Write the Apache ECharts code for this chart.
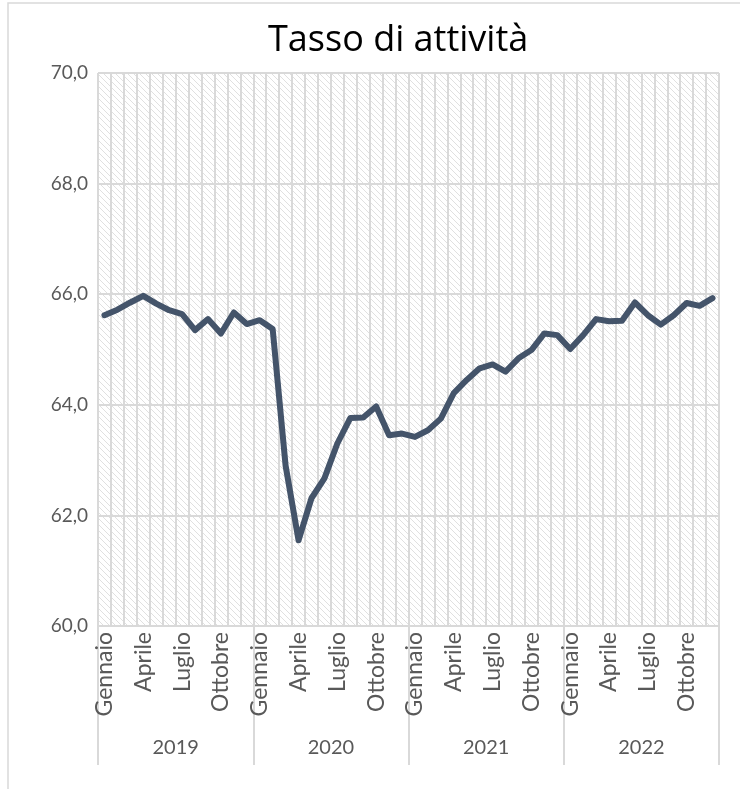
<!DOCTYPE html>
<html>
<head>
<meta charset="utf-8">
<script src="https://cdn.jsdelivr.net/npm/echarts@6/dist/echarts.min.js"></script>
<style>
  html, body { margin: 0; padding: 0; background: #fff; }
  #container { width: 740px; height: 789px; }
</style>
</head>
<body>
<div id="container"></div>
<script>
// dati mensili 2019-2022
var years = ['2019', '2020', '2021', '2022'];
var monthNames = ['Gennaio', 'Febbraio', 'Marzo', 'Aprile', 'Maggio', 'Giugno',
                  'Luglio', 'Agosto', 'Settembre', 'Ottobre', 'Novembre', 'Dicembre'];
var rate2019 = [65.62, 65.72, 65.85, 65.97, 65.83, 65.71, 65.64, 65.35, 65.55, 65.29, 65.67, 65.46];
var rate2020 = [65.53, 65.37, 62.90, 61.55, 62.31, 62.67, 63.30, 63.76, 63.77, 63.97, 63.45, 63.48];
var rate2021 = [63.42, 63.54, 63.75, 64.21, 64.45, 64.66, 64.73, 64.60, 64.84, 64.99, 65.29, 65.26];
var rate2022 = [65.01, 65.26, 65.55, 65.51, 65.52, 65.85, 65.62, 65.45, 65.62, 65.84, 65.79, 65.93];

var categories = [];
years.forEach(function (y) {
    monthNames.forEach(function (m) { categories.push(m + ' ' + y); });
});
var values = rate2019.concat(rate2020, rate2021, rate2022);

// tratteggio di sfondo
var hatch = document.createElement('canvas');
hatch.width = 6;
hatch.height = 6;
var hctx = hatch.getContext('2d');
hctx.fillStyle = '#ffffff';
hctx.fillRect(0, 0, 6, 6);
hctx.fillStyle = '#e0e0e0';
for (var i = 0; i < 6; i++) {
    hctx.fillRect(i, i, 1, 1);
}

var dom = document.getElementById('container');
var myChart = echarts.init(dom, null, { renderer: 'canvas' });

var gridColor = '#d9d9d9';
var textColor = '#595959';
var font = 'Lato';

var option = {
    animation: false,
    backgroundColor: '#ffffff',
    title: {
        text: 'Tasso di attività',
        left: 263,
        top: 18,
        textStyle: { fontFamily: 'Open Sans', fontSize: 36, fontWeight: 'normal', color: '#000000' }
    },
    graphic: [{
        type: 'rect',
        shape: { x: 8, y: 3, width: 800, height: 830 },
        style: { fill: null, stroke: gridColor, lineWidth: 1.5 },
        silent: true
    }],
    grid: {
        left: 98, right: 21, top: 73, bottom: 163,
        show: true,
        borderWidth: 0,
        backgroundColor: { image: hatch, repeat: 'repeat' }
    },
    xAxis: [{
        type: 'category',
        data: categories,
        boundaryGap: true,
        axisLine: { show: true, lineStyle: { color: gridColor, width: 2 } },
        axisTick: { show: false },
        splitLine: { show: true, interval: 0, lineStyle: { color: gridColor, width: 2 } },
        axisLabel: {
            interval: 0,
            rotate: 90,
            margin: 6,
            color: textColor,
            fontFamily: font,
            fontSize: 23,
            formatter: function (v, idx) {
                return idx % 3 === 0 ? v.split(' ')[0] : '';
            }
        }
    }, {
        type: 'category',
        data: years,
        position: 'bottom',
        offset: 139,
        boundaryGap: true,
        axisLine: { show: false },
        axisTick: { show: true, inside: true, length: 139, lineStyle: { color: gridColor, width: 2 } },
        axisLabel: { inside: true, margin: 7, color: textColor, fontFamily: font, fontSize: 20 },
        splitLine: { show: false }
    }],
    yAxis: {
        type: 'value',
        min: 60,
        max: 70,
        interval: 2,
        axisLine: { show: false },
        axisTick: { show: false },
        splitLine: { lineStyle: { color: gridColor, width: 2 } },
        axisLabel: {
            margin: 10,
            color: textColor,
            fontFamily: font,
            fontSize: 19,
            formatter: function (v) { return v.toFixed(1).replace('.', ','); }
        }
    },
    series: [{
        type: 'line',
        data: values,
        symbol: 'none',
        lineStyle: { color: '#44546a', width: 6, join: 'round', cap: 'round' }
    }]
};

myChart.setOption(option);
window.addEventListener('resize', function () { myChart.resize(); });
</script>
</body>
</html>
